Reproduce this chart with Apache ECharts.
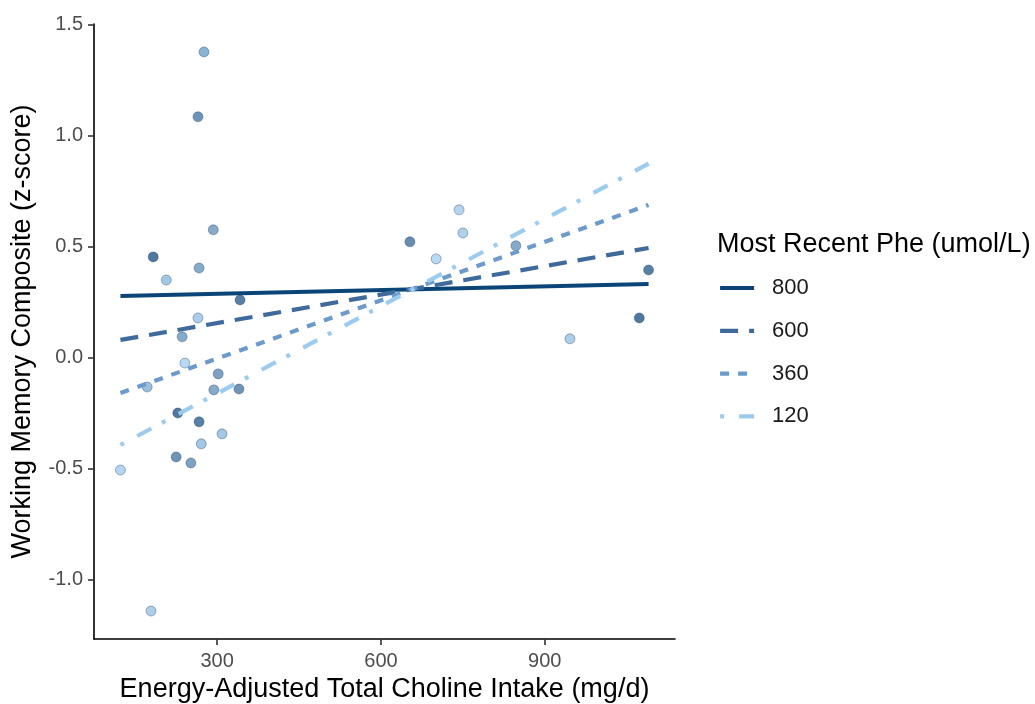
<!DOCTYPE html>
<html><head><meta charset="utf-8">
<script src="https://cdn.jsdelivr.net/npm/echarts@6/dist/echarts.min.js"></script>
<style>html,body{margin:0;padding:0;background:#fff}#c{width:1035px;height:704px}</style>
</head><body><div id="c"></div>
<script>
// Observed points: energy-adjusted choline intake (mg/d), working memory z-score, most recent Phe
const cholineX = [276, 265, 293, 183, 207, 267, 342, 265, 236, 241, 302, 172, 294, 340, 228,
                  267, 309, 271, 225, 252, 123, 179, 653, 743, 750, 701, 847, 1090, 1073, 946];
const memoryY  = [1.378, 1.086, 0.577, 0.455, 0.351, 0.405, 0.261, 0.18, 0.095, -0.023, -0.072, -0.131, -0.144, -0.140, -0.248,
                  -0.288, -0.342, -0.387, -0.446, -0.473, -0.505, -1.14, 0.523, 0.667, 0.563, 0.446, 0.505, 0.396, 0.18, 0.086];
const pheValue = [400, 600, 450, 800, 250, 450, 750, 200, 450, 120, 500, 300, 450, 600, 800,
                  750, 250, 250, 600, 500, 150, 200, 650, 150, 180, 120, 450, 750, 800, 200];

// Fitted regression lines at four Phe levels
const fitX = [123, 1090];
const phelevels = ['800', '600', '360', '120'];
const fit800 = [0.279, 0.333];
const fit600 = [0.081, 0.495];
const fit360 = [-0.158, 0.689];
const fit120 = [-0.392, 0.875];

const xTicks = [300, 600, 900];
const yTicks = [-1.0, -0.5, 0.0, 0.5, 1.0, 1.5];

const FONT = "'Liberation Sans', Arial, sans-serif";
const lineColors = ['#0b4578', '#3f6a9c', '#6b9acb', '#9ccbf0'];
const lineDashes = ['solid', [18, 11], [9, 9], [4, 15, 16, 12]];
const fits = [fit800, fit600, fit360, fit120];

const chart = echarts.init(document.getElementById('c'), null, {renderer: 'canvas'});

const scatterData = cholineX.map((x, i) => [x, memoryY[i], pheValue[i]]);

const lineSeries = phelevels.map((name, k) => ({
  name: name,
  type: 'line',
  data: fitX.map((x, i) => [x, fits[k][i]]),
  symbol: 'none',
  showSymbol: false,
  z: 5,
  lineStyle: {color: lineColors[k], width: 4.2, type: lineDashes[k], cap: 'butt'},
  itemStyle: {color: lineColors[k], opacity: 0},
  silent: true
}));

chart.setOption({
  animation: false,
  backgroundColor: '#ffffff',
  textStyle: {fontFamily: FONT},
  title: {
    text: 'Most Recent Phe (umol/L)',
    left: 712, top: 226,
    textStyle: {fontSize: 27, fontWeight: 'normal', color: '#000', fontFamily: FONT}
  },
  legend: {
    data: phelevels.map((n, k) => ({
      name: n,
      itemStyle: {opacity: 0},
      lineStyle: {color: lineColors[k], width: 4.2, type: lineDashes[k], cap: 'butt', opacity: 1}
    })),
    orient: 'vertical',
    left: 718, top: 277,
    padding: 0,
    itemWidth: 34, itemHeight: 20, itemGap: 20.8,
    textStyle: {fontSize: 22, color: '#1a1a1a', fontFamily: FONT, padding: [0, 0, 0, 13]},
    selectedMode: false
  },
  visualMap: {
    type: 'continuous',
    show: false,
    dimension: 2,
    seriesIndex: 0,
    min: 120, max: 800,
    inRange: {color: ['#9ccbf0', '#0b4578']}
  },
  grid: {left: 94, top: 24, width: 581, height: 615, containLabel: false, outerBoundsMode: 'none'},
  xAxis: {
    type: 'value',
    min: 74.6, max: 1138.4,
    name: 'Energy-Adjusted Total Choline Intake (mg/d)',
    nameLocation: 'middle', nameGap: 36,
    nameTextStyle: {fontSize: 27, color: '#000', fontFamily: FONT},
    axisLine: {show: true, onZero: false, lineStyle: {color: '#000', width: 1.6}},
    axisTick: {show: true, length: 6, customValues: xTicks, lineStyle: {color: '#333', width: 1.6}},
    axisLabel: {customValues: xTicks, margin: 12, fontSize: 20, color: '#4d4d4d', fontFamily: FONT},
    splitLine: {show: false}
  },
  yAxis: {
    type: 'value',
    min: -1.266, max: 1.504,
    name: 'Working Memory Composite (z-score)',
    nameLocation: 'middle', nameGap: 58,
    nameTextStyle: {fontSize: 27, color: '#000', fontFamily: FONT},
    axisLine: {show: true, onZero: false, lineStyle: {color: '#000', width: 1.6}},
    axisTick: {show: true, length: 6, customValues: yTicks, lineStyle: {color: '#333', width: 1.6}},
    axisLabel: {customValues: yTicks, margin: 11, fontSize: 20, color: '#4d4d4d', fontFamily: FONT,
      formatter: v => v.toFixed(1)},
    splitLine: {show: false}
  },
  series: [{
    type: 'scatter',
    data: scatterData,
    symbolSize: 10,
    z: 2,
    itemStyle: {opacity: 0.72, borderColor: 'rgba(10,35,70,0.45)', borderWidth: 1}
  }].concat(lineSeries)
});
</script>
</body></html>
